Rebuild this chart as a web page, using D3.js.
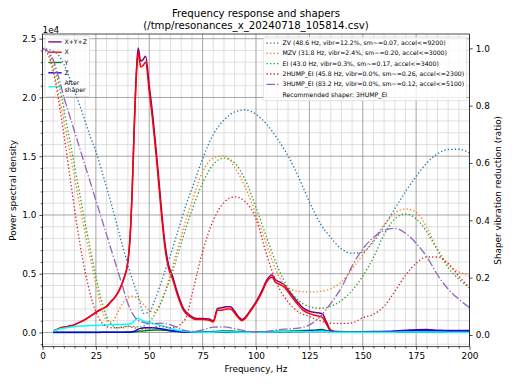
<!DOCTYPE html>
<html>
<head>
<meta charset="utf-8">
<script src="https://cdn.jsdelivr.net/npm/d3@7"></script>
<style>
  body { margin: 0; background: #fff; }
  text { font-family: "DejaVu Sans", sans-serif; fill: #000; }
</style>
</head>
<body>
<div id="chart"></div>
<script>
// PSD values are in units of 1e4
const psdFreqs = [5, 8, 12, 15, 18, 21, 25, 28, 30, 32,
  34, 36, 38, 40, 41, 42, 43, 44, 44.8, 46,
  47, 48.3, 50, 51.5, 53, 54.5, 56, 57.5, 59, 61,
  63, 66, 69, 72, 75, 78, 80, 82, 84, 86,
  88, 90, 92, 93.5, 95, 97, 100, 103, 105, 107.5,
  109, 111, 113, 116, 119, 122, 125, 128, 131, 133,
  135, 138, 145, 155, 165, 170, 175, 180, 185, 190,
  195, 200];
const psdSum = [0.012, 0.037, 0.052, 0.067, 0.092, 0.122, 0.172, 0.203, 0.223, 0.263,
  0.303, 0.364, 0.455, 0.606, 0.807, 1.21, 1.77, 2.23, 2.42, 2.31,
  2.32, 2.35, 2.1, 1.87, 1.6, 1.3, 0.99, 0.74, 0.58, 0.475,
  0.35, 0.205, 0.145, 0.12, 0.12, 0.115, 0.1, 0.205, 0.21, 0.22,
  0.22, 0.18, 0.13, 0.11, 0.13, 0.18, 0.26, 0.365, 0.445, 0.49,
  0.45, 0.43, 0.41, 0.34, 0.27, 0.21, 0.18, 0.17, 0.16, 0.09,
  0.02, 0.008, 0.007, 0.008, 0.012, 0.018, 0.024, 0.025, 0.02, 0.016,
  0.016, 0.016];
const psdX = [0.01, 0.035, 0.05, 0.065, 0.09, 0.12, 0.17, 0.2, 0.22, 0.26,
  0.3, 0.36, 0.45, 0.6, 0.8, 1.2, 1.75, 2.2, 2.38, 2.26,
  2.27, 2.3, 2.05, 1.82, 1.55, 1.25, 0.95, 0.7, 0.55, 0.45,
  0.33, 0.19, 0.135, 0.11, 0.11, 0.105, 0.09, 0.19, 0.19, 0.2,
  0.2, 0.165, 0.12, 0.1, 0.12, 0.17, 0.25, 0.35, 0.43, 0.47,
  0.43, 0.41, 0.39, 0.32, 0.25, 0.19, 0.16, 0.145, 0.13, 0.07,
  0.01, 0.003, 0.003, 0.003, 0.004, 0.005, 0.005, 0.005, 0.004, 0.004,
  0.004, 0.004];
const psdY = [0, 0, 0, 0, 0, 0, 0, 0.001, 0.001, 0.001,
  0.001, 0.002, 0.003, 0.004, 0.005, 0.005, 0.006, 0.008, 0.01, 0.012,
  0.013, 0.015, 0.018, 0.02, 0.022, 0.022, 0.02, 0.018, 0.015, 0.012,
  0.01, 0.007, 0.006, 0.006, 0.006, 0.007, 0.008, 0.01, 0.012, 0.012,
  0.012, 0.01, 0.008, 0.006, 0.005, 0.005, 0.005, 0.006, 0.007, 0.008,
  0.009, 0.01, 0.011, 0.012, 0.014, 0.016, 0.018, 0.02, 0.025, 0.015,
  0.006, 0.003, 0.002, 0.002, 0.002, 0.002, 0.002, 0.002, 0.002, 0.002,
  0.002, 0.002];
const psdZ = [0.002, 0.002, 0.002, 0.002, 0.002, 0.002, 0.002, 0.002, 0.002, 0.002,
  0.002, 0.002, 0.002, 0.002, 0.003, 0.005, 0.01, 0.02, 0.028, 0.035,
  0.038, 0.04, 0.041, 0.04, 0.038, 0.035, 0.03, 0.025, 0.02, 0.014,
  0.01, 0.005, 0.003, 0.003, 0.003, 0.003, 0.003, 0.003, 0.003, 0.003,
  0.003, 0.003, 0.003, 0.003, 0.003, 0.003, 0.003, 0.003, 0.004, 0.004,
  0.005, 0.005, 0.006, 0.007, 0.008, 0.009, 0.012, 0.017, 0.02, 0.012,
  0.005, 0.003, 0.003, 0.004, 0.008, 0.013, 0.018, 0.019, 0.014, 0.011,
  0.011, 0.011];
const psdAfter = [0.01, 0.03, 0.042, 0.05, 0.055, 0.058, 0.06, 0.062, 0.064, 0.066,
  0.068, 0.068, 0.07, 0.07, 0.072, 0.08, 0.1, 0.115, 0.122, 0.11,
  0.1, 0.092, 0.085, 0.078, 0.072, 0.065, 0.057, 0.05, 0.04, 0.03,
  0.022, 0.012, 0.006, 0.004, 0.003, 0.003, 0.003, 0.005, 0.006, 0.006,
  0.005, 0.004, 0.003, 0.002, 0.002, 0.002, 0.002, 0.003, 0.004, 0.005,
  0.005, 0.006, 0.007, 0.008, 0.008, 0.007, 0.007, 0.01, 0.012, 0.009,
  0.003, 0.002, 0.002, 0.002, 0.003, 0.004, 0.005, 0.005, 0.004, 0.003,
  0.002, 0.002];

// shaper vibration reduction ratios
const shaperFreqs = [0, 2.5, 5, 7.5, 10, 12.5, 15, 17.5, 20, 22.5, 25, 27.5, 30,
  32.5, 35, 37.5, 40, 42.5, 45, 47.5, 50, 52.5, 55, 57.5, 60, 62.5, 65, 67.5, 70,
  75, 80, 85, 90, 95, 100, 105, 110, 115, 120, 125, 130, 135, 140, 145, 150,
  155, 160, 165, 170, 175, 180, 185, 190, 195, 200];
const zvVals = [1, 0.997, 0.99, 0.975, 0.945, 0.9, 0.85, 0.8, 0.745, 0.69, 0.64, 0.58, 0.515,
  0.45, 0.38, 0.31, 0.245, 0.185, 0.13, 0.075, 0.08, 0.12, 0.17, 0.225, 0.28, 0.34, 0.4, 0.46, 0.51,
  0.615, 0.7, 0.75, 0.778, 0.785, 0.77, 0.735, 0.685, 0.625, 0.55, 0.465, 0.39, 0.34, 0.3, 0.285, 0.29,
  0.325, 0.38, 0.44, 0.5, 0.553, 0.6, 0.632, 0.647, 0.648, 0.635];
const mzvVals = [1, 0.99, 0.93, 0.84, 0.75, 0.65, 0.55, 0.45, 0.355, 0.265, 0.175, 0.1, 0.05,
  0.045, 0.075, 0.11, 0.13, 0.135, 0.125, 0.105, 0.085, 0.08, 0.105, 0.155, 0.215, 0.28, 0.345, 0.41, 0.465,
  0.57, 0.618, 0.625, 0.585, 0.515, 0.42, 0.315, 0.215, 0.165, 0.152, 0.15, 0.152, 0.162, 0.185, 0.23, 0.28,
  0.33, 0.385, 0.425, 0.44, 0.428, 0.375, 0.3, 0.245, 0.22, 0.205];
const eiVals = [1, 0.99, 0.95, 0.88, 0.79, 0.69, 0.59, 0.49, 0.39, 0.295, 0.205, 0.125, 0.065,
  0.035, 0.025, 0.025, 0.03, 0.03, 0.028, 0.032, 0.045, 0.07, 0.105, 0.15, 0.2, 0.26, 0.32, 0.38, 0.435,
  0.53, 0.595, 0.617, 0.6, 0.54, 0.445, 0.34, 0.24, 0.165, 0.12, 0.099, 0.093, 0.1, 0.12, 0.155, 0.205,
  0.27, 0.35, 0.405, 0.422, 0.405, 0.36, 0.295, 0.235, 0.195, 0.165];
const hump2Vals = [1, 0.98, 0.92, 0.82, 0.7, 0.57, 0.44, 0.32, 0.22, 0.14, 0.08, 0.045, 0.03,
  0.025, 0.025, 0.028, 0.03, 0.026, 0.022, 0.02, 0.023, 0.028, 0.03, 0.028, 0.025, 0.027, 0.04, 0.065, 0.14,
  0.29, 0.4, 0.462, 0.482, 0.465, 0.405, 0.28, 0.175, 0.115, 0.08, 0.064, 0.05, 0.041, 0.04, 0.042, 0.06,
  0.072, 0.1, 0.152, 0.208, 0.25, 0.272, 0.272, 0.25, 0.205, 0.165];
const hump3Vals = [1, 0.99, 0.96, 0.9, 0.83, 0.77, 0.71, 0.65, 0.59, 0.53, 0.47, 0.41, 0.35,
  0.29, 0.23, 0.17, 0.11, 0.07, 0.05, 0.043, 0.04, 0.04, 0.041, 0.04, 0.035, 0.028, 0.02, 0.014, 0.012,
  0.018, 0.027, 0.028, 0.022, 0.014, 0.01, 0.012, 0.018, 0.021, 0.024, 0.035, 0.064, 0.11, 0.165, 0.24, 0.3,
  0.34, 0.365, 0.372, 0.355, 0.32, 0.273, 0.21, 0.16, 0.125, 0.095];

const shaperLabels = [
  "ZV (48.6 Hz, vibr=12.2%, sm~=0.07, accel<=9200)",
  "MZV (31.8 Hz, vibr=2.4%, sm~=0.20, accel<=3000)",
  "EI (43.0 Hz, vibr=0.3%, sm~=0.17, accel<=3400)",
  "2HUMP_EI (45.8 Hz, vibr=0.0%, sm~=0.26, accel<=2300)",
  "3HUMP_EI (83.2 Hz, vibr=0.0%, sm~=0.12, accel<=5100)"
];
const recommended = "Recommended shaper: 3HUMP_EI";
const xTicks = [0, 25, 50, 75, 100, 125, 150, 175, 200];
const yLeftTicks = [0, 0.5, 1.0, 1.5, 2.0, 2.5];
const yRightTicks = [0, 0.2, 0.4, 0.6, 0.8, 1.0];

const W = 512, H = 384;
const L = 42.5, R = 469.5, T = 34, B = 346.7;

const svg = d3.select("#chart").append("svg")
  .attr("width", W).attr("height", H);
svg.append("rect").attr("width", W).attr("height", H).attr("fill", "#fff");

const x = d3.scaleLinear().domain([0, 200]).range([L, R]);
const yL = d3.scaleLinear().domain([-0.121, 2.54]).range([B, T]);
const yR = d3.scaleLinear().domain([-0.041, 1.05]).range([B, T]);

svg.append("defs").append("clipPath").attr("id", "clip")
  .append("rect").attr("x", L).attr("y", T).attr("width", R - L).attr("height", B - T);

// grid
const grid = svg.append("g");
const xMinor = d3.range(0, 201, 5).filter(d => d % 25 !== 0);
const yMinor = d3.range(-1, 26).map(d => d / 10).filter(d => Math.round(d * 10) % 5 !== 0);
grid.selectAll(".vmin").data(xMinor).enter().append("line")
  .attr("x1", d => x(d)).attr("x2", d => x(d)).attr("y1", T).attr("y2", B)
  .attr("stroke", "#d3d3d3").attr("stroke-width", 0.7);
grid.selectAll(".hmin").data(yMinor).enter().append("line")
  .attr("y1", d => yL(d)).attr("y2", d => yL(d)).attr("x1", L).attr("x2", R)
  .attr("stroke", "#d3d3d3").attr("stroke-width", 0.7);
grid.selectAll(".vmaj").data(xTicks).enter().append("line")
  .attr("x1", d => x(d)).attr("x2", d => x(d)).attr("y1", T).attr("y2", B)
  .attr("stroke", "#808080").attr("stroke-width", 0.7);
grid.selectAll(".hmaj").data(yLeftTicks).enter().append("line")
  .attr("y1", d => yL(d)).attr("y2", d => yL(d)).attr("x1", L).attr("x2", R)
  .attr("stroke", "#808080").attr("stroke-width", 0.7);

// psd lines
const plot = svg.append("g").attr("clip-path", "url(#clip)");
const psdLine = vals => d3.line()
  .x((d, i) => x(psdFreqs[i]))
  .y(d => yL(d))
  .curve(d3.curveMonotoneX)(vals);

const psdSeries = [
  {name: "X+Y+Z", vals: psdSum, color: "#800080"},
  {name: "X", vals: psdX, color: "#ff0000"},
  {name: "Y", vals: psdY, color: "#008000"},
  {name: "Z", vals: psdZ, color: "#0000ff"},
  {name: "After\nshaper", vals: psdAfter, color: "#00ffff"}
];
psdSeries.forEach(s => {
  plot.append("path").attr("d", psdLine(s.vals))
    .attr("fill", "none").attr("stroke", s.color).attr("stroke-width", 1.5)
    .attr("stroke-linejoin", "round");
});

// legend box with handles
function legend(g, items, opts) {
  const fs = 6.2, lh = 7.2, gap = 3.1, pad = 2.5;
  const box = g.append("rect").attr("fill", "#fff").attr("fill-opacity", 0.8)
    .attr("stroke", "#cccccc").attr("stroke-width", 0.6).attr("rx", 1.5);
  let cy = opts.top + pad;
  let maxW = 0;
  const rows = [];
  items.forEach(it => {
    const lines = it.label.split("\n");
    const h = lines.length * lh;
    const mid = cy + h / 2;
    const t = g.append("text").attr("font-size", fs);
    lines.forEach((ln, k) => {
      t.append("tspan").attr("x", 0).attr("y", cy + lh * k + lh * 0.78).text(ln);
    });
    maxW = Math.max(maxW, t.node().getBBox().width);
    rows.push({it, mid, t});
    cy += h + gap;
  });
  const boxH = cy - gap + pad - opts.top;
  const boxW = pad + 13.4 + 3.5 + maxW + pad;
  const left = opts.anchor === "left" ? opts.x : opts.x - boxW;
  box.attr("x", left).attr("y", opts.top).attr("width", boxW).attr("height", boxH);
  rows.forEach(r => {
    r.t.selectAll("tspan").attr("x", left + pad + 13.4 + 3.5);
    if (r.it.color) {
      g.append("line").attr("x1", left + pad + 0.8).attr("x2", left + pad + 14.2)
        .attr("y1", r.mid).attr("y2", r.mid)
        .attr("stroke", r.it.color).attr("stroke-width", 1.33)
        .attr("stroke-dasharray", r.it.dash || null);
    }
  });
}
legend(svg.append("g"), psdSeries.map(s => ({label: s.name, color: s.color})),
  {anchor: "left", x: L + 2.5, top: T + 1.8});

// shaper lines on twin axis
const shaperSeries = [
  {vals: zvVals, color: "#1f77b4", dash: "1.33,2.2"},
  {vals: mzvVals, color: "#ff7f0e", dash: "1.33,2.2"},
  {vals: eiVals, color: "#2ca02c", dash: "1.33,2.2"},
  {vals: hump2Vals, color: "#d62728", dash: "1.33,2.2"},
  {vals: hump3Vals, color: "#9467bd", dash: "8.5,2.1,1.33,2.1"}
];
const shaperLine = vals => d3.line()
  .x((d, i) => x(shaperFreqs[i]))
  .y(d => yR(d))
  .curve(d3.curveMonotoneX)(vals);
const plot2 = svg.append("g").attr("clip-path", "url(#clip)");
shaperSeries.forEach(s => {
  plot2.append("path").attr("d", shaperLine(s.vals))
    .attr("fill", "none").attr("stroke", s.color).attr("stroke-width", 1.33)
    .attr("stroke-dasharray", s.dash);
});

// axes
function styleAxis(g) {
  g.select(".domain").remove();
  g.selectAll("line").attr("stroke", "#000").attr("stroke-width", 0.7);
  g.selectAll("text").attr("font-size", 8.9).attr("font-family", "DejaVu Sans").attr("fill", "#000");
}
svg.append("g").attr("transform", `translate(0,${B})`)
  .call(d3.axisBottom(x).tickValues(xMinor).tickSize(1.8).tickFormat(""))
  .call(styleAxis);
svg.append("g").attr("transform", `translate(0,${B})`)
  .call(d3.axisBottom(x).tickValues(xTicks).tickSize(3.1).tickPadding(3.1).tickFormat(d3.format("d")))
  .call(styleAxis);
svg.append("g").attr("transform", `translate(${L},0)`)
  .call(d3.axisLeft(yL).tickValues(yMinor).tickSize(1.8).tickFormat(""))
  .call(styleAxis);
svg.append("g").attr("transform", `translate(${L},0)`)
  .call(d3.axisLeft(yL).tickValues(yLeftTicks).tickSize(3.1).tickPadding(3.1).tickFormat(d3.format(".1f")))
  .call(styleAxis);
svg.append("g").attr("transform", `translate(${R},0)`)
  .call(d3.axisRight(yR).tickValues(yRightTicks).tickSize(3.1).tickPadding(3.1).tickFormat(d3.format(".1f")))
  .call(styleAxis);

svg.append("rect").attr("x", L).attr("y", T).attr("width", R - L).attr("height", B - T)
  .attr("fill", "none").attr("stroke", "#000").attr("stroke-width", 0.7);

// right legend
legend(svg.append("g"),
  shaperSeries.map((s, i) => ({label: shaperLabels[i], color: s.color, dash: s.dash}))
    .concat([{label: recommended, color: null}]),
  {anchor: "right", x: R - 2.8, top: T + 3});

// texts
svg.append("text").attr("x", L).attr("y", 32.5).attr("font-size", 8.9).text("1e4");
svg.append("text").attr("x", (L + R) / 2).attr("y", 16.5).attr("text-anchor", "middle")
  .attr("font-size", 10.2).text("Frequency response and shapers");
svg.append("text").attr("x", (L + R) / 2).attr("y", 28.6).attr("text-anchor", "middle")
  .attr("font-size", 10.2).text("(/tmp/resonances_x_20240718_105814.csv)");
svg.append("text").attr("x", (L + R) / 2).attr("y", 372).attr("text-anchor", "middle")
  .attr("font-size", 8.9).text("Frequency, Hz");
svg.append("text").attr("transform", `translate(15.5,${(T + B) / 2}) rotate(-90)`)
  .attr("text-anchor", "middle").attr("font-size", 8.9).text("Power spectral density");
svg.append("text").attr("transform", `translate(501,${(T + B) / 2}) rotate(-90)`)
  .attr("text-anchor", "middle").attr("font-size", 8.9).text("Shaper vibration reduction (ratio)");
</script>
</body>
</html>
